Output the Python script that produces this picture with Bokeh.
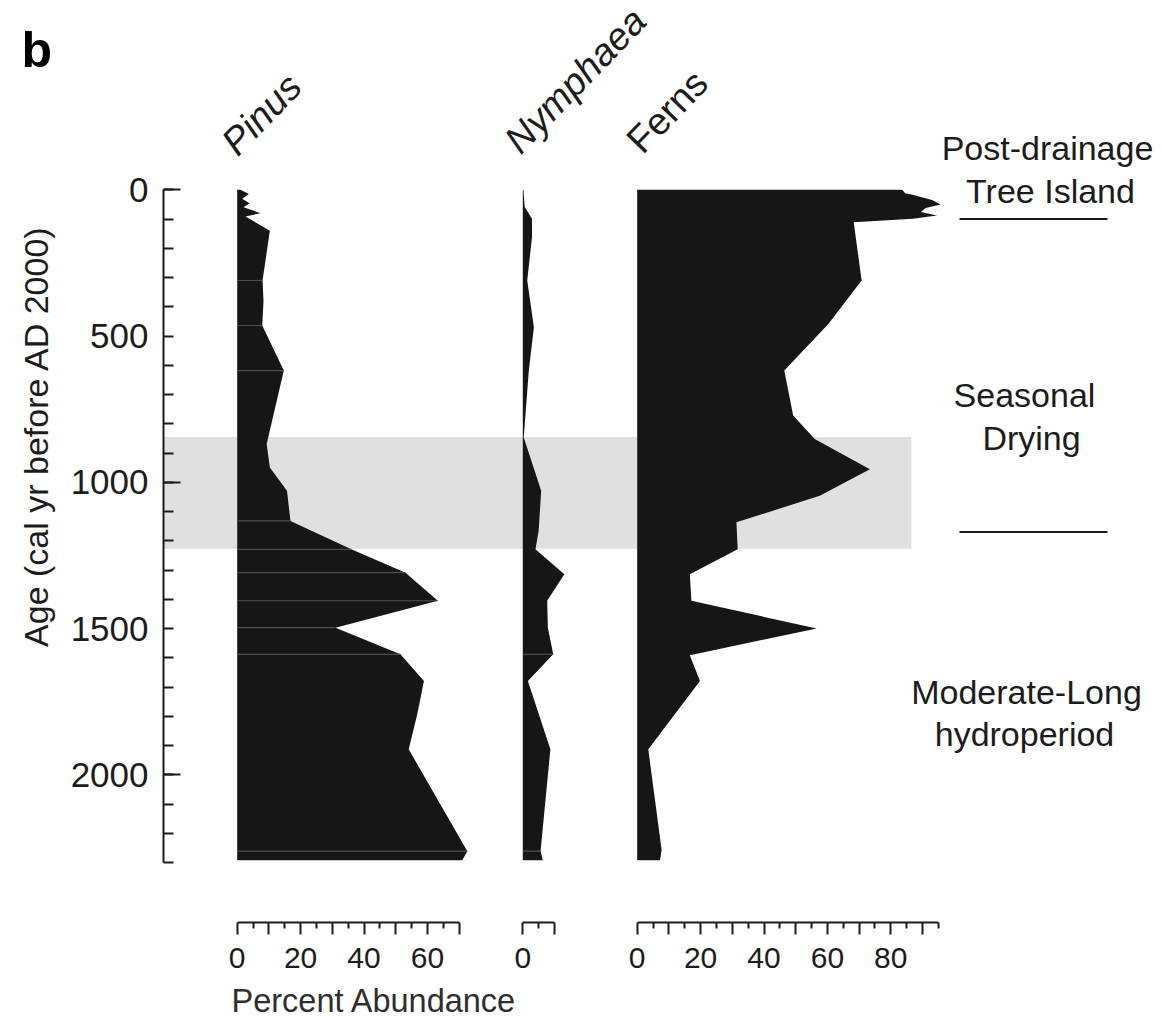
import math
from bokeh.plotting import figure
from bokeh.models import Range1d, LinearAxis, FixedTicker, BoxAnnotation
from bokeh.layouts import row, column
from bokeh.embed import file_html
from bokeh.resources import INLINE
from bokeh.core.properties import value

# ---------------- data (age in cal yr before AD 2000, percent abundance) ----------------
PINUS_AGE = [0, 14, 31, 46, 60, 80, 91, 140, 310, 379, 464, 618, 869, 949, 1029, 1132,
             1229, 1309, 1405, 1497, 1588, 1679, 1793, 1913, 2261, 2292]
PINUS_PCT = [1.0, 3.7, 1.6, 3.9, 2.0, 7.4, 2.6, 10.3, 8.0, 8.3, 7.9, 14.7, 9.3, 10.3, 15.7, 16.8,
             36.0, 53.1, 63.3, 31.0, 51.5, 58.9, 56.8, 54.1, 72.6, 71.0]
PINUS_SEAMS = [310, 464, 618, 1132, 1229, 1309, 1405, 1497, 1588, 2261]

NYMPH_AGE = [0, 59, 99, 162, 310, 470, 618, 847, 1029, 1166, 1229, 1314, 1405, 1497, 1588,
             1679, 1913, 2261, 2292]
NYMPH_PCT = [0.2, 0.6, 2.9, 2.9, 1.4, 3.5, 1.9, 0.3, 5.8, 5.0, 4.0, 13.1, 7.7, 7.9, 9.6,
             1.6, 8.7, 5.6, 6.3]
NYMPH_SEAMS = [1588, 2261]

FERNS_AGE = [0, 12, 16, 35, 50, 62, 76, 88, 99, 111, 310, 459, 618, 772, 852, 955, 1046, 1137,
             1229, 1314, 1405, 1500, 1591, 1679, 1913, 2257, 2292]
FERNS_PCT = [83.6, 84.5, 86.5, 93.0, 95.7, 91.0, 89.5, 94.6, 87.0, 68.3, 70.8, 60.3, 46.4, 49.2,
             56.0, 73.4, 57.6, 31.3, 31.7, 16.6, 17.1, 56.6, 16.6, 19.8, 3.5, 7.7, 7.2]

BAND_AGES = [845, 1227]
ZONE_BOUNDARIES = [100, 1170]
ZONE_LABELS = ["Tree Island", "Seasonal", "Drying", "Moderate-Long", "hydroperiod"]

AGE_LABEL_TICKS = [0, 500, 1000, 1500, 2000]
AGE_LONG_TICKS = [0, 1000, 2000]
AGE_MINOR = list(range(0, 2301, 100))
AGE_MAX = 2300

PINUS_MAX, NYMPH_MAX, FERNS_MAX = 70, 10, 95
PINUS_LABELS = [0, 20, 40, 60]
NYMPH_LABELS = [0]
FERNS_LABELS = [0, 20, 40, 60, 80]

# ---------------- layout constants (page pixels, origin at top-left) ----------------
SANS = "Liberation Sans"
INK = "#1c1c1c"
FILL = "#161616"
SEAM = "#4e4e4e"
BAND = "#e0e0e0"

PAGE_L, PAGE_R, PAGE_B = 0, 1163, 1019
FRAME_TOP, FRAME_BOTTOM = 168, 922
ROW_BOTTOM = 982
AGE0_Y, PX_PER_YR = 189.3, 0.2925
PX_PER_PCT = 3.17
OVERLAP = 2                      # neighbouring panels overlap so the grey band has no seam

F0_R = 56
F1_FRAME_L, F1_R = 163, 490
F2_R = 600
PINUS_ZERO, NYMPH_ZERO, FERNS_ZERO = 236.7, 522.3, 636.7
ROW_H = ROW_BOTTOM - FRAME_TOP


def age_range():
    return Range1d(start=(FRAME_BOTTOM - AGE0_Y) / PX_PER_YR, end=(FRAME_TOP - AGE0_Y) / PX_PER_YR)


def base_fig(width, height, xr, yr, transparent=False, **kw):
    p = figure(width=width, height=height, x_range=xr, y_range=yr, output_backend="svg",
               toolbar_location=None, title=None, x_axis_location=None, y_axis_location=None,
               min_border=0, **kw)
    p.grid.visible = False
    p.outline_line_color = None
    if transparent:
        p.background_fill_color = None
        p.border_fill_color = None
    else:
        p.background_fill_color = "white"
        p.border_fill_color = "white"
    return p


def bottom_axis(maxv, labels):
    major = list(range(0, maxv + 1, 10))
    minor = list(range(5, maxv + 1, 10))
    return LinearAxis(bounds=(0, maxv), ticker=FixedTicker(ticks=major, minor_ticks=minor),
                      major_label_overrides={t: "" for t in major if t not in labels},
                      axis_line_width=2, axis_line_color=INK,
                      major_tick_in=0, major_tick_out=12, major_tick_line_width=2,
                      major_tick_line_color=INK,
                      minor_tick_in=0, minor_tick_out=6, minor_tick_line_width=2,
                      minor_tick_line_color=INK,
                      major_label_standoff=13,
                      major_label_text_font=SANS, major_label_text_font_size="30px",
                      major_label_text_color=INK)


def panel(frame_l, frame_r, zero_x, canvas_l=None, overlap_left=0):
    canvas_l = frame_l if canvas_l is None else canvas_l
    xr = Range1d((frame_l - zero_x) / PX_PER_PCT, (frame_r - zero_x) / PX_PER_PCT)
    p = base_fig(frame_r - canvas_l, ROW_H, xr, age_range(), transparent=True,
                 min_border_left=frame_l - canvas_l,
                 min_border_bottom=ROW_BOTTOM - FRAME_BOTTOM)
    if overlap_left:
        p.margin = (0, 0, 0, -overlap_left)
    return p, xr


def band(xr, left=True, right=True, right_value=None):
    pad = 5
    kw = {}
    if left:
        kw["left"] = xr.start - pad
    if right_value is not None:
        kw["right"] = right_value
    elif right:
        kw["right"] = xr.end + pad
    return BoxAnnotation(top=BAND_AGES[0], bottom=BAND_AGES[1], fill_color=BAND, fill_alpha=1,
                         line_color=None, level="underlay", **kw)


def seams(p, ages, pcts, seam_ages):
    lookup = dict(zip(ages, pcts))
    p.segment(x0=0, x1=[lookup[a] for a in seam_ages], y0=seam_ages, y1=seam_ages,
              line_color=SEAM, line_width=1.2)


# ---------------- header strip ----------------
top = base_fig(PAGE_R - PAGE_L, FRAME_TOP, Range1d(PAGE_L, PAGE_R), Range1d(FRAME_TOP, 0))
top.text(x=[21], y=[49], text=["b"], text_font=value(SANS), text_font_size="50px",
         text_font_style="bold", text_color="#000000", text_baseline="alphabetic")
ang = math.radians(46)
top.text(x=[228, 511], y=[148, 146], text=["Pinus", "Nymphaea"], angle=ang,
         text_font=value(SANS), text_font_size="38px", text_font_style="italic",
         text_color=INK, text_baseline="alphabetic", text_align="left")
top.text(x=[633], y=[146], text=["Ferns"], angle=ang,
         text_font=value(SANS), text_font_size="38px",
         text_color=INK, text_baseline="alphabetic", text_align="left")
top.text(x=[1047], y=[147], text=["Post-drainage"], text_font=value(SANS),
         text_font_size="34px", text_color=INK, text_baseline="alphabetic", text_align="center")

# ---------------- F0 : age label ----------------
f0 = base_fig(F0_R - PAGE_L, ROW_H, Range1d(PAGE_L, F0_R), Range1d(ROW_BOTTOM, FRAME_TOP))
f0.text(x=[35], y=[457], text=["Age (cal yr before AD 2000)"], angle=math.pi / 2,
        text_font=value(SANS), text_font_size="34px", text_color=INK,
        text_align="center", text_baseline="middle")

# ---------------- F1 : Pinus ----------------
f1, xr1 = panel(F1_FRAME_L, F1_R + OVERLAP, PINUS_ZERO, canvas_l=F0_R)
f1.add_layout(band(xr1, left=False))
f1.harea(x1=0, x2=PINUS_PCT, y=PINUS_AGE, fill_color=FILL)
seams(f1, PINUS_AGE, PINUS_PCT, PINUS_SEAMS)
# inner age axis: line, long ticks at 0/1000/2000 and short ticks every 100 yr, no labels
yax_ticks = LinearAxis(bounds=(0, AGE_MAX),
                       ticker=FixedTicker(ticks=AGE_LONG_TICKS, minor_ticks=AGE_MINOR),
                       major_label_overrides={t: "" for t in AGE_LONG_TICKS},
                       major_label_standoff=0, major_label_text_font_size="1px",
                       axis_line_width=2, axis_line_color=INK,
                       major_tick_in=17, major_tick_out=0, major_tick_line_width=2,
                       major_tick_line_color=INK,
                       minor_tick_in=10, minor_tick_out=0, minor_tick_line_width=2,
                       minor_tick_line_color=INK)
# outer age axis: only the labels every 500 yr
yax_labels = LinearAxis(bounds=(0, AGE_MAX),
                        ticker=FixedTicker(ticks=AGE_LABEL_TICKS, minor_ticks=[]),
                        axis_line_color=None, major_tick_line_color=None,
                        minor_tick_line_color=None, major_tick_in=0, major_tick_out=0,
                        minor_tick_in=0, minor_tick_out=0,
                        major_label_standoff=15, major_label_text_font=SANS,
                        major_label_text_font_size="35px", major_label_text_color=INK)
f1.add_layout(yax_ticks, "left")
f1.add_layout(yax_labels, "left")
f1.add_layout(bottom_axis(PINUS_MAX, PINUS_LABELS), "below")

# ---------------- F2 : Nymphaea ----------------
f2, xr2 = panel(F1_R, F2_R + OVERLAP, NYMPH_ZERO, overlap_left=OVERLAP)
f2.add_layout(band(xr2))
f2.harea(x1=0, x2=NYMPH_PCT, y=NYMPH_AGE, fill_color=FILL)
seams(f2, NYMPH_AGE, NYMPH_PCT, NYMPH_SEAMS)
f2.add_layout(bottom_axis(NYMPH_MAX, NYMPH_LABELS), "below")

# ---------------- F3 : Ferns + zone annotations ----------------
f3, xr3 = panel(F2_R, PAGE_R, FERNS_ZERO, overlap_left=OVERLAP)
f3.extra_x_ranges = {"page": Range1d(F2_R, PAGE_R)}
f3.extra_y_ranges = {"page": Range1d(FRAME_BOTTOM, FRAME_TOP)}
f3.add_layout(band(xr3, right_value=86.5))
f3.harea(x1=0, x2=FERNS_PCT, y=FERNS_AGE, fill_color=FILL)
f3.add_layout(bottom_axis(FERNS_MAX, FERNS_LABELS), "below")
f3.segment(x0=959, x1=1107, y0=ZONE_BOUNDARIES, y1=ZONE_BOUNDARIES, x_range_name="page",
           line_color=INK, line_width=2)
f3.text(x=[1050, 1024, 1031, 1026, 1024], y=[190, 394, 437, 691, 733], text=ZONE_LABELS,
        x_range_name="page", y_range_name="page", text_font=value(SANS),
        text_font_size="34px", text_color=INK, text_align="center",
        text_baseline="alphabetic")

# ---------------- bottom strip ----------------
bot = base_fig(PAGE_R - PAGE_L, PAGE_B - ROW_BOTTOM, Range1d(PAGE_L, PAGE_R),
               Range1d(PAGE_B, ROW_BOTTOM))
bot.text(x=[231], y=[1000], text=["Percent Abundance"], text_font=value(SANS),
         text_font_size="32.5px", text_color="#2e2e2e", text_baseline="alphabetic",
         text_align="left")

layout = column(top, row(f0, f1, f2, f3, spacing=0), bot, spacing=0)

open("out.html", "w").write(file_html(layout, INLINE))
